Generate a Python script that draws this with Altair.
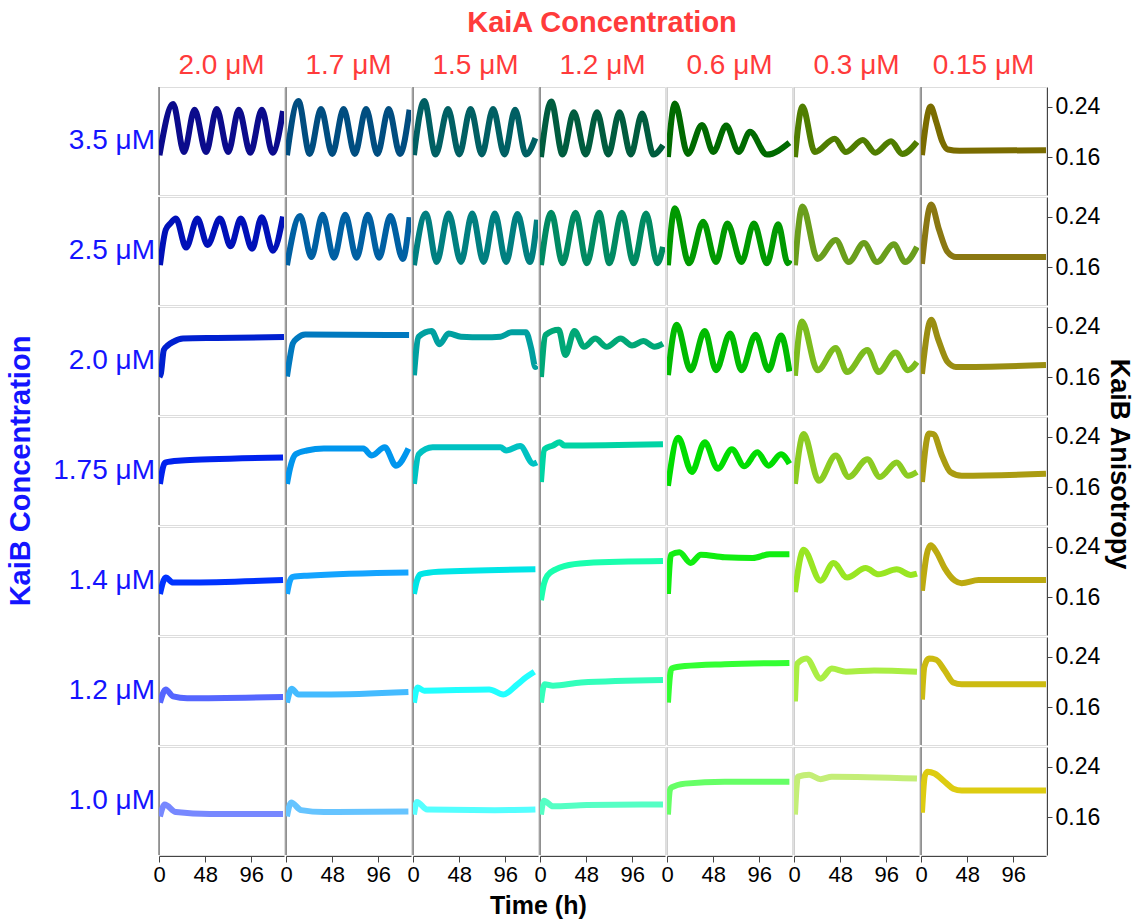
import altair as alt
import pandas as pd

KAIA = ["2.0 μM", "1.7 μM", "1.5 μM", "1.2 μM", "0.6 μM", "0.3 μM", "0.15 μM"]
KAIB = ["3.5 μM", "2.5 μM", "2.0 μM", "1.75 μM", "1.4 μM", "1.2 μM", "1.0 μM"]

# each row: one (times, values) pair per KaiA column, in KAIA order
ROW_3_5 = [
    ([0.5, 14.7, 26, 37, 49, 60, 72, 83, 95, 107, 118, 129],
     [0.163, 0.244, 0.168, 0.235, 0.168, 0.236, 0.168, 0.235, 0.167, 0.235, 0.167, 0.233]),
    ([1, 12.9, 24.6, 36.4, 48.1, 59.9, 71.6, 83.3, 95.1, 106.8, 118.5, 128.5],
     [0.163, 0.249, 0.165, 0.236, 0.165, 0.236, 0.165, 0.236, 0.165, 0.236, 0.165, 0.235]),
    ([1, 11.7, 23.5, 36.4, 48.1, 59.9, 71.6, 83.3, 95.1, 106.2, 117.4, 127.3],
     [0.163, 0.249, 0.164, 0.236, 0.164, 0.236, 0.164, 0.236, 0.164, 0.235, 0.164, 0.19]),
    ([1, 11.7, 23.5, 35.2, 47.5, 59.3, 71, 82.7, 94.5, 106.2, 118, 127.9],
     [0.16, 0.248, 0.164, 0.231, 0.164, 0.231, 0.164, 0.231, 0.164, 0.229, 0.164, 0.179]),
    ([1, 8.2, 21.7, 36.4, 48.1, 61.6, 74.5, 86.3, 103.9, 127.3],
     [0.16, 0.245, 0.165, 0.211, 0.168, 0.21, 0.168, 0.2, 0.164, 0.183]),
    ([1, 8.8, 21.7, 42.3, 54, 71.6, 84.5, 100.9, 112.7, 127.9],
     [0.16, 0.24, 0.168, 0.189, 0.168, 0.187, 0.167, 0.185, 0.165, 0.184]),
    ([1, 10, 16, 22, 28, 40, 130],
     [0.163, 0.24, 0.215, 0.185, 0.172, 0.170, 0.171]),
]
ROW_2_5 = [
    ([1, 7, 11.7, 17.6, 28.2, 39.9, 50.5, 63.4, 74.5, 85.1, 96.8, 106.8, 118.5, 129],
     [0.163, 0.219, 0.229, 0.237, 0.191, 0.237, 0.195, 0.237, 0.193, 0.237, 0.189, 0.239, 0.186, 0.240]),
    ([1, 14.7, 26.4, 38.1, 49.9, 61.6, 73.4, 85.1, 96.8, 108.6, 121.5, 128.5],
     [0.163, 0.241, 0.176, 0.243, 0.175, 0.243, 0.175, 0.243, 0.175, 0.241, 0.173, 0.239]),
    ([1, 13.5, 24.6, 37, 49.9, 61.6, 73.4, 85.1, 96.8, 108.6, 121.5, 129],
     [0.163, 0.245, 0.168, 0.245, 0.168, 0.245, 0.168, 0.245, 0.168, 0.244, 0.168, 0.235]),
    ([1, 11.7, 23.5, 37, 48.7, 61.6, 72.2, 85.1, 97.4, 110.3, 122.1, 127.9],
     [0.163, 0.246, 0.166, 0.246, 0.166, 0.246, 0.166, 0.246, 0.166, 0.245, 0.166, 0.192]),
    ([1, 8.2, 22.9, 37.6, 51, 62.8, 77.5, 90.4, 103.9, 115.6, 125.6, 127.9],
     [0.163, 0.253, 0.166, 0.232, 0.168, 0.229, 0.168, 0.229, 0.166, 0.228, 0.166, 0.171]),
    ([1, 8.8, 24.6, 43.4, 56.9, 72.8, 86.3, 103.9, 115.6, 127.9],
     [0.163, 0.256, 0.173, 0.203, 0.168, 0.198, 0.168, 0.196, 0.168, 0.192]),
    ([1, 10.6, 18.8, 27.6, 36.4, 130],
     [0.165, 0.259, 0.219, 0.184, 0.176, 0.176]),
]
ROW_2_0 = [
    ([0.5, 2, 5, 9, 15, 25, 60, 130],
     [0.160, 0.166, 0.203, 0.21, 0.216, 0.221, 0.222, 0.2235]),
    ([1, 4, 7, 12, 20, 128],
     [0.161, 0.19, 0.213, 0.222, 0.2275, 0.2265]),
    ([1, 5.9, 19.4, 27.6, 37, 49.9, 73.4, 91, 102.7, 117.4, 123, 127.3, 129],
     [0.163, 0.224, 0.233, 0.212, 0.229, 0.224, 0.223, 0.224, 0.231, 0.231, 0.205, 0.176, 0.178]),
    ([1, 5.9, 19.4, 26.4, 35.8, 45.8, 57.5, 69.2, 83.9, 95.7, 107.4, 119.1, 127.9],
     [0.160, 0.227, 0.235, 0.195, 0.233, 0.208, 0.221, 0.208, 0.221, 0.21, 0.217, 0.208, 0.213]),
    ([1, 10, 24.6, 39.3, 51, 65.7, 77.5, 92.1, 105.6, 118.5, 127.3],
     [0.163, 0.243, 0.171, 0.233, 0.171, 0.229, 0.171, 0.227, 0.171, 0.226, 0.169]),
    ([1, 8.2, 24.6, 43.4, 55.2, 76.3, 88, 105.6, 118.5, 127.9],
     [0.162, 0.248, 0.171, 0.206, 0.168, 0.203, 0.168, 0.199, 0.171, 0.184]),
    ([1, 10.6, 17.6, 27.6, 36.4, 130],
     [0.165, 0.251, 0.221, 0.184, 0.176, 0.179]),
]
ROW_1_75 = [
    ([1, 4.7, 7, 23.5, 52.8, 129],
     [0.165, 0.194, 0.199, 0.202, 0.204, 0.207]),
    ([1, 4.1, 10, 21.7, 39.3, 80.4, 89.2, 102.7, 114.4, 127.3],
     [0.165, 0.189, 0.212, 0.218, 0.221, 0.221, 0.21, 0.223, 0.194, 0.221]),
    ([1, 5.9, 20.5, 91, 96.8, 111.5, 125, 129],
     [0.165, 0.212, 0.223, 0.223, 0.218, 0.225, 0.197, 0.199]),
    ([1, 4.7, 13.5, 20.5, 25.2, 127.9],
     [0.168, 0.22, 0.226, 0.231, 0.226, 0.228]),
    ([1, 11.7, 25.8, 39.3, 52.8, 67.5, 80.4, 93.9, 105.6, 118.5, 127.3],
     [0.162, 0.238, 0.184, 0.231, 0.189, 0.22, 0.193, 0.215, 0.194, 0.212, 0.197]),
    ([1, 10, 25.8, 43.4, 56.9, 76.3, 89.2, 106.8, 118.5, 127.9],
     [0.165, 0.244, 0.17, 0.21, 0.176, 0.204, 0.176, 0.199, 0.178, 0.184]),
    ([1, 8.2, 12.9, 21.7, 30.5, 42.3, 130],
     [0.168, 0.245, 0.244, 0.21, 0.184, 0.178, 0.181]),
]
ROW_1_4 = [
    ([1, 7, 14.7, 28.2, 129],
     [0.165, 0.191, 0.183, 0.183, 0.187]),
    ([1, 4.1, 7, 21.7, 127.3],
     [0.165, 0.186, 0.192, 0.194, 0.199]),
    ([1, 4.1, 7.6, 26.4, 127.3],
     [0.165, 0.186, 0.196, 0.2, 0.204]),
    ([1, 4.1, 7.6, 16.4, 25.2, 48.7, 127.9],
     [0.155, 0.181, 0.194, 0.204, 0.209, 0.214, 0.217]),
    ([1, 4.1, 12.9, 24.6, 35.2, 59.9, 89.2, 106.8, 127.3],
     [0.165, 0.227, 0.231, 0.214, 0.227, 0.223, 0.222, 0.228, 0.228]),
    ([1, 10, 27.6, 41.1, 55.2, 74.5, 88, 106.8, 121.5, 127.9],
     [0.168, 0.235, 0.186, 0.214, 0.191, 0.206, 0.196, 0.204, 0.195, 0.197]),
    ([1, 5.9, 10, 15.8, 24.6, 35.2, 42.3, 59.9, 130],
     [0.17, 0.227, 0.242, 0.232, 0.206, 0.186, 0.182, 0.187, 0.187]),
]
ROW_1_2 = [
    ([1, 7, 14.7, 29.3, 129],
     [0.167, 0.188, 0.177, 0.174, 0.176]),
    ([1, 5.9, 12.9, 39.3, 127.3],
     [0.167, 0.189, 0.18, 0.18, 0.184]),
    ([1, 4.7, 11.7, 79.2, 93.9, 108.6, 117.4, 126.2],
     [0.167, 0.191, 0.186, 0.188, 0.18, 0.196, 0.207, 0.216]),
    ([1, 4.7, 13.5, 42.8, 127.9],
     [0.167, 0.196, 0.194, 0.199, 0.203]),
    ([1, 2.9, 4.7, 18.8, 59.9, 127.3],
     [0.167, 0.207, 0.221, 0.225, 0.228, 0.23]),
    ([1, 3.5, 12.9, 27.6, 39.3, 54, 83.3, 127.9],
     [0.169, 0.229, 0.237, 0.205, 0.221, 0.216, 0.218, 0.216]),
    ([1, 3.5, 8.2, 15.8, 24.6, 33.5, 42.3, 130],
     [0.172, 0.224, 0.237, 0.235, 0.218, 0.199, 0.196, 0.196]),
]
ROW_1_0 = [
    ([1, 5.9, 17.6, 52.8, 129],
     [0.161, 0.18, 0.168, 0.165, 0.165]),
    ([1, 5.3, 15.8, 39.3, 127.3],
     [0.161, 0.183, 0.171, 0.168, 0.169]),
    ([1, 4.1, 14.7, 85.1, 127.3],
     [0.164, 0.184, 0.172, 0.171, 0.172]),
    ([1, 4.1, 13.5, 48.7, 127.9],
     [0.164, 0.186, 0.177, 0.179, 0.18]),
    ([1, 2.9, 4.7, 18.8, 59.9, 127.3],
     [0.164, 0.202, 0.207, 0.213, 0.216, 0.216]),
    ([1, 4.1, 15.8, 27.6, 39.3, 127.9],
     [0.164, 0.224, 0.227, 0.22, 0.224, 0.221]),
    ([1, 4.1, 7, 14.1, 24.6, 33.5, 42.3, 130],
     [0.167, 0.226, 0.232, 0.229, 0.216, 0.205, 0.202, 0.202]),
]
ALL_ROWS = [ROW_3_5, ROW_2_5, ROW_2_0, ROW_1_75, ROW_1_4, ROW_1_2, ROW_1_0]

COLORS = [
    ["#0b0b8c", "#004d80", "#005f63", "#005c3e", "#006a00", "#4f7d00", "#7a6c00"],
    ["#0010b8", "#0060a3", "#007f80", "#008a62", "#009900", "#6a9e1c", "#8a7812"],
    ["#0020d0", "#0079bf", "#00a0a0", "#00a877", "#00bb00", "#7cbc1e", "#9a8e12"],
    ["#0022ee", "#0096ee", "#00c2c2", "#00d4a4", "#00dd00", "#8ccc22", "#aa9c12"],
    ["#0033ff", "#14a4ff", "#00e6e6", "#1affae", "#11ee11", "#99e622", "#bcaa10"],
    ["#5566ff", "#44bbff", "#22ffff", "#33ffbb", "#33ff33", "#aaee44", "#ccbb11"],
    ["#7788ff", "#66c4ff", "#55ffff", "#55ffc4", "#66ff66", "#c4ee77", "#ddcc11"],
]

records = []
panels, panel_colors = [], []
for bi, b in enumerate(KAIB):
    for ai, a in enumerate(KAIA):
        key = f"{b}|{a}"
        panels.append(key)
        panel_colors.append(COLORS[bi][ai])
        ts, vs = ALL_ROWS[bi][ai]
        for t, v in zip(ts, vs):
            records.append({"kind": "line", "kaib": b, "kaia": a, "panel": key, "t": t, "v": v})
        records.append({"kind": "rule", "kaib": b, "kaia": a, "panel": key, "t": 0, "v": None})
df = pd.DataFrame(records)

RED = "#ff3b3b"
BLUE = "#1414ff"
FONT = "Liberation Sans"

xenc = alt.X("t:Q", scale=alt.Scale(domain=[0, 130], nice=False, zero=False),
             axis=alt.Axis(values=[0, 48, 96], title=None, grid=False,
                           labelFontSize=22, labelColor="black",
                           tickSize=6, tickColor="#444", domainColor="#444",
                           labelPadding=2, labelFlush=False))
yenc = alt.Y("v:Q", scale=alt.Scale(domain=[0.1, 0.271], nice=False, zero=False),
             axis=alt.Axis(orient="right", values=[0.16, 0.24], format=".2f",
                           title=None, grid=False,
                           labelFontSize=23, labelColor="black", tickSize=5,
                           tickColor="#444", domainColor="#444", labelPadding=3))

rules = alt.Chart().transform_filter(alt.datum.kind == "rule").mark_rule(strokeWidth=1).encode(
    x=xenc,
    color=alt.condition(alt.FieldOneOfPredicate(field="kaia", oneOf=["0.6 μM", "0.3 μM"]),
                        alt.value("#c0c0c0"), alt.value("#444444")),
)
lines = alt.Chart().transform_filter(alt.datum.kind == "line").mark_line(
    strokeWidth=6, interpolate="monotone", clip=True
).encode(
    x=xenc,
    y=yenc,
    color=alt.Color("panel:N", scale=alt.Scale(domain=panels, range=panel_colors), legend=None),
)

grid = alt.layer(rules, lines, data=df).properties(width=125, height=108).facet(
    row=alt.Row("kaib:N", sort=KAIB, header=alt.Header(
        title="KaiB Concentration", titleOrient="left", titleColor=BLUE,
        titleFontSize=29, titleFontWeight="bold", titlePadding=7,
        labelOrient="left", labelAngle=0, labelAlign="left", labelBaseline="middle",
        labelColor=BLUE, labelFontSize=28, labelPadding=3)),
    column=alt.Column("kaia:N", sort=KAIA, header=alt.Header(
        title="KaiA Concentration", titleColor=RED, titleFontSize=29,
        titleFontWeight="bold", titlePadding=4,
        labelColor=RED, labelFontSize=28, labelPadding=6)),
    spacing=0,
    title=alt.TitleParams("Time (h)", orient="bottom", anchor="middle", fontSize=25,
                          fontWeight="bold", color="black", font=FONT, offset=9, dx=-15),
)

chart = alt.hconcat(grid).properties(
    title=alt.TitleParams("KaiB Anisotropy", orient="right", anchor="middle", angle=90,
                          fontSize=27, fontWeight="bold", color="black", font=FONT, offset=5),
    padding={"left": 6, "top": 9, "right": 0, "bottom": 0},
).configure_view(stroke="#c8c8c8").configure(font=FONT)

chart.save("out.html", embed_options={"renderer": "svg", "actions": False})
